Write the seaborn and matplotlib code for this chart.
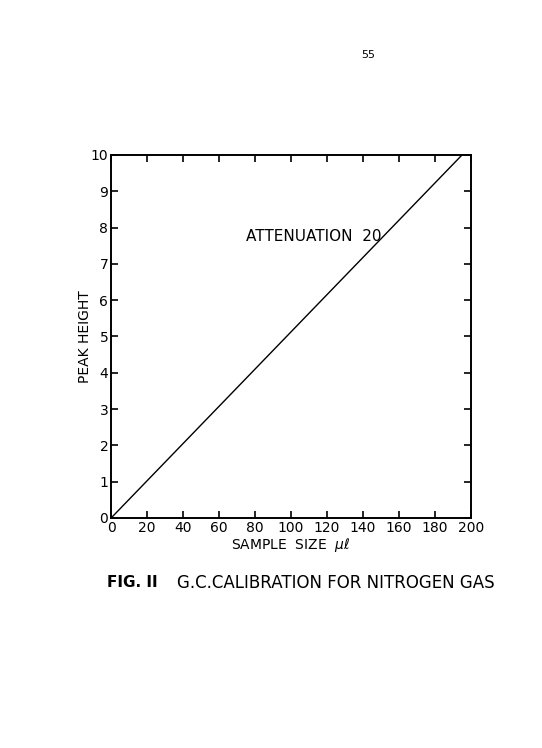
import matplotlib
matplotlib.use("Agg")
import matplotlib.pyplot as plt
import seaborn as sns
import pandas as pd

# --- Data ---
sample_size = [0, 195]
peak_height = [0, 10]
x_ticks = [0, 20, 40, 60, 80, 100, 120, 140, 160, 180, 200]
y_ticks = [0, 1, 2, 3, 4, 5, 6, 7, 8, 9, 10]

df = pd.DataFrame({"sample_size": sample_size, "peak_height": peak_height})

sns.set_theme(style="ticks")
plt.rcParams['font.family'] = ['DejaVu Sans']
plt.rcParams['text.color'] = 'black'
plt.rcParams['axes.labelcolor'] = 'black'

fig = plt.figure(figsize=(5.42, 7.48), dpi=100)
ax = fig.add_axes([0.205, 0.3075, 0.664, 0.4853])

sns.lineplot(data=df, x="sample_size", y="peak_height", color="black", linewidth=1.0, ax=ax)

ax.set_xlim(0, 200)
ax.set_ylim(0, 10)
ax.set_xticks(x_ticks)
ax.set_yticks(y_ticks)
ax.tick_params(direction="in", length=5, width=1.2, top=True, right=True,
               labelsize=10, colors="black", pad=2)
for side in ["top", "right", "bottom", "left"]:
    ax.spines[side].set_visible(True)
    ax.spines[side].set_linewidth(1.4)
    ax.spines[side].set_color("black")

ax.set_xlabel("SAMPLE  SIZE  $\\mu\\ell$", fontsize=10, labelpad=1)
ax.set_ylabel("PEAK HEIGHT", fontsize=10, labelpad=-1)

ax.text(75, 7.75, "ATTENUATION  20", fontsize=11, va="center", ha="left")

fig.text(0.68, 0.927, "55", fontsize=8, ha="center", va="center")
fig.text(0.197, 0.221, "FIG. II", fontsize=11, fontweight="bold", ha="left", va="center")
fig.text(0.327, 0.221, "G.C.CALIBRATION FOR NITROGEN GAS", fontsize=12,
         ha="left", va="center")

fig.savefig("out.png", dpi=100, facecolor="white")
plt.close(fig)
